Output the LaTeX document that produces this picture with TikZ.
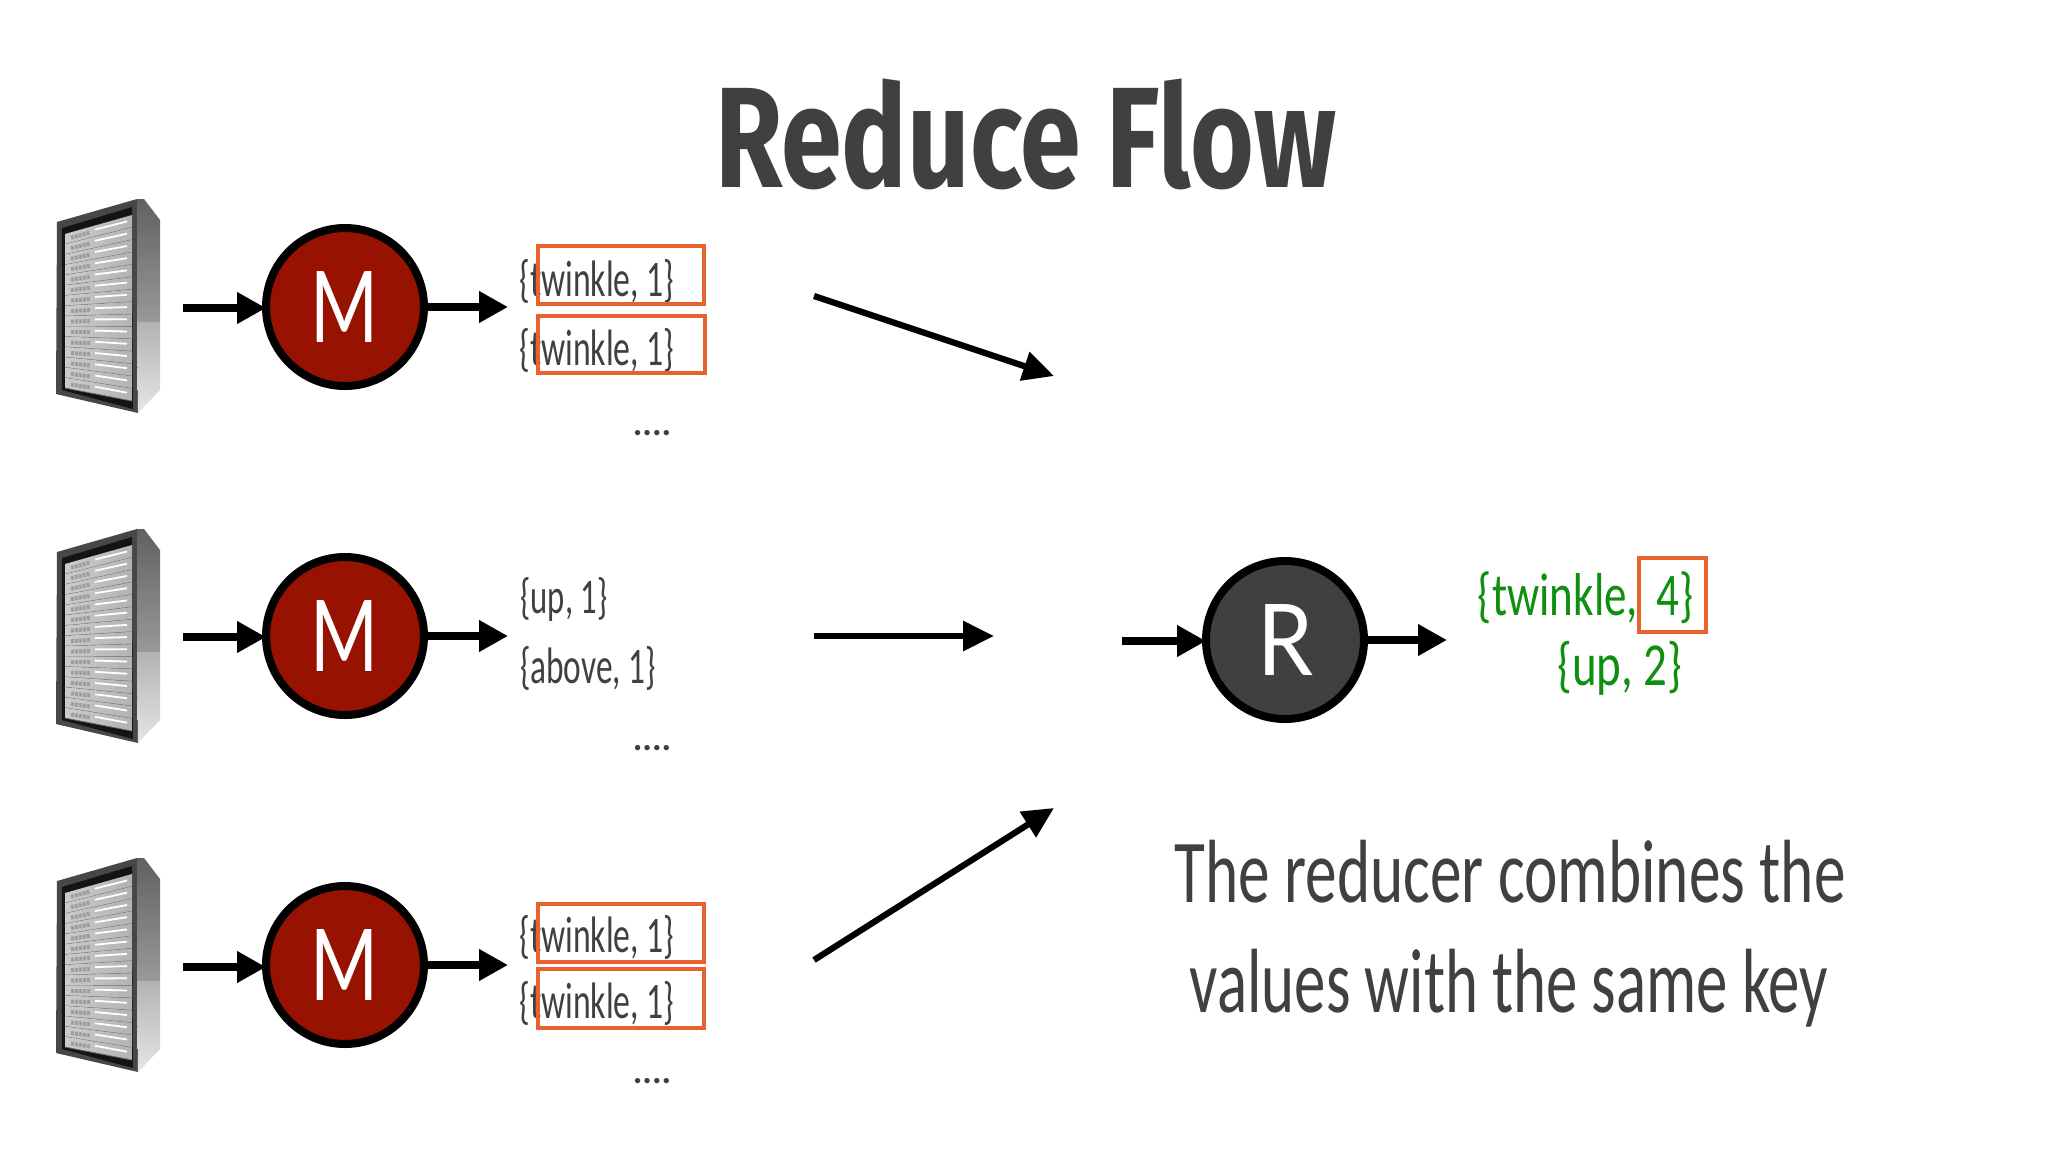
\documentclass[tikz,border=0pt]{standalone}
\usepackage{fontspec}
\usepackage{graphicx}
\usetikzlibrary{arrows.meta}
\setmainfont{Lato}
\newfontfamily\hand{Carlito}
\newfontfamily\titlefont{Fira Sans}[BoldFont={Fira Sans Bold}]
\definecolor{ink}{HTML}{404040}
\definecolor{orng}{HTML}{E8622F}
\definecolor{grn}{HTML}{0F8F0F}
\definecolor{mred}{HTML}{971200}
\newcommand\fitbox[3]{\resizebox*{#1pt}{#2pt}{#3}}
\tikzset{
  x=1pt,y=-1pt,
  lbl/.style={inner sep=0,outer sep=0,text=ink,font=\hand},
  glbl/.style={inner sep=0,outer sep=0,text=grn,font=\hand},
  dotsl/.style={inner sep=0,outer sep=0,anchor=base,text=ink,font=\hand\bfseries\fontsize{36}{36}\selectfont},
  obox/.style={draw=orng,line width=3.4pt},
  arr/.style={line width=7.2pt,-{Triangle[length=29pt,width=30pt]},black},
  bigarr/.style={line width=6.2pt,-{Triangle[length=31pt,width=29pt]},black},
  disc/.style={circle,draw=black,line width=8pt,minimum size=158pt,inner sep=0,outer sep=0,text=white},
  rack/.pic={
    \fill[black!72] (57,222) -- (137,199) -- (138,413) -- (56,394) -- cycle;
    \shade[top color=black!62,bottom color=black!40] (137,199) -- (144,199) -- (160,220) -- (160,322) -- (137,322) -- cycle;
    \shade[top color=black!30,bottom color=black!10] (137,322) -- (160,322) -- (160,390) -- (138,413) -- cycle;
    \fill[black!92] (62,228) -- (132,207) -- (133,409) -- (62,390) -- cycle;
    \foreach \i in {0,...,14}{
      \pgfmathsetmacro\la{234+\i*154/15}
      \pgfmathsetmacro\lb{234+(\i+1)*154/15}
      \pgfmathsetmacro\ra{215+\i*186/15}
      \pgfmathsetmacro\rb{215+(\i+1)*186/15}
      \pgfmathsetmacro\sa{\la+0.45*(\ra-\la)+(\lb-\la)*0.4}
      \pgfmathsetmacro\sb{\la+0.92*(\ra-\la)+(\rb-\ra)*0.4}
      \pgfmathsetmacro\ta{\la+0.1*(\ra-\la)+(\lb-\la)*0.55}
      \pgfmathsetmacro\tb{\la+0.38*(\ra-\la)+(\lb-\la)*0.55}
      \shade[left color=black!20,right color=black!30] (65,\la) -- (132,\ra) -- (132,\rb) -- (65,\lb) -- cycle;
      \draw[black!58,line width=.8pt] (65,\lb) -- (132,\rb);
      \draw[black!38,line width=4pt,dash pattern=on 3pt off 1pt] (71,\ta) -- (90,\tb);
      \draw[white,line width=1.8pt] (95,\sa) -- (127,\sb);
    }
  }
}
\begin{document}
\begin{tikzpicture}
\useasboundingbox (0,0) rectangle (2048,1152);
\fill[white] (0,0) rectangle (2048,1152);

% title
\node[inner sep=0,outer sep=0,text=ink] (title) at (1026,134)
  {\fitbox{621}{111}{\titlefont\bfseries Reduce Flow}};

% servers
\pic at (0,0) {rack};
\pic at (0,330) {rack};
\pic at (0,659) {rack};

\coordinate (s1) at (183,308);
\coordinate (s2) at (183,637);
\coordinate (s3) at (183,967);
\coordinate (o1) at (508,307);
\coordinate (o2) at (508,636);
\coordinate (o3) at (508,965);
\coordinate (b1a) at (814,296);
\coordinate (b1b) at (1054,376);
\coordinate (b2a) at (814,636);
\coordinate (b2b) at (994,636);
\coordinate (b3a) at (814,960);
\coordinate (b3b) at (1054,808);
\coordinate (ri) at (1122,641);
\coordinate (ro) at (1447,640);

% mappers
\node[disc,fill=mred] (m1) at (345,307) {\fitbox{68}{71}{M}};
\node[disc,fill=mred] (m2) at (345,636) {\fitbox{68}{71}{M}};
\node[disc,fill=mred] (m3) at (345,965) {\fitbox{68}{71}{M}};
\node[disc,fill=ink] (r) at (1285,640) {\fitbox{56}{71}{R}};

\draw[arr] (s1) -- (s1 -| m1.west);
\draw[arr] (s2) -- (s2 -| m2.west);
\draw[arr] (s3) -- (s3 -| m3.west);
\draw[arr] (m1.east) -- (o1);
\draw[arr] (m2.east) -- (o2);
\draw[arr] (m3.east) -- (o3);
\draw[arr] (ri) -- (ri -| r.west);
\draw[arr] (r.east) -- (ro);
\draw[bigarr] (b1a) -- (b1b);
\draw[bigarr] (b2a) -- (b2b);
\draw[bigarr] (b3a) -- (b3b);

% mapper outputs
\node[lbl] (t1) at (597,281) {\fitbox{155}{44}{\{twinkle, 1\}}};
\node[lbl] (t2) at (597,350) {\fitbox{155}{44}{\{twinkle, 1\}}};
\node[lbl] (t3) at (597,937) {\fitbox{155}{44}{\{twinkle, 1\}}};
\node[lbl] (t4) at (597,1003) {\fitbox{155}{44}{\{twinkle, 1\}}};
\node[lbl] (u1) at (564,600) {\fitbox{87}{44}{\{up, 1\}}};
\node[lbl] (a1) at (588,668) {\fitbox{136}{44}{\{above, 1\}}};
\node[dotsl] (d1) at (652,435) {....};
\node[dotsl] (d2) at (652,750) {....};
\node[dotsl] (d3) at (652,1083) {....};

\draw[obox] (538,246) rectangle (704,304);
\draw[obox] (538,316) rectangle (705,373);
\draw[obox] (538,904) rectangle (704,962);
\draw[obox] (538,969) rectangle (704,1028);

% reducer output
\node[glbl] (g1) at (1586,598) {\fitbox{216}{52}{\{twinkle,\hspace{.42em}4\}}};
\node[glbl] (g2) at (1620,668) {\fitbox{125}{54}{\{up, 2\}}};
\draw[obox] (1639,558) rectangle (1706,632);

% caption
\node[lbl] (c1) at (1510,872) {\fitbox{671}{63}{The reducer combines the}};
\node[lbl] (c2) at (1509,988) {\fitbox{638}{78}{values with the same key}};
\end{tikzpicture}
\end{document}
